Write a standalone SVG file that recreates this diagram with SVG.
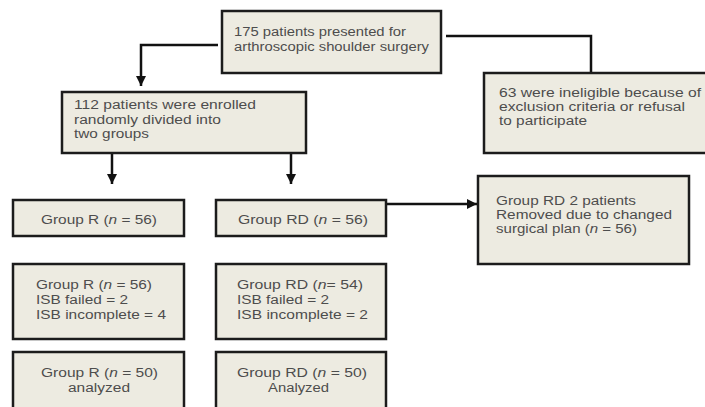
<svg xmlns="http://www.w3.org/2000/svg" width="705" height="407" viewBox="0 0 705 407">
<style>
.box{fill:#EDEBE1;stroke:#1c1c1c;stroke-width:2.5}
.t{font-family:"Liberation Sans",Arial,sans-serif;font-size:12.5px;fill:#4d4d4d}
.c{fill:none;stroke:#111;stroke-width:2.5}
</style>
<defs>
<marker id="ah" markerUnits="userSpaceOnUse" markerWidth="12" markerHeight="12" viewBox="0 0 12 12" refX="10" refY="6" orient="auto">
<path d="M0,1 L10,6 L0,11 Z" fill="#111"/>
</marker>
</defs>
<rect width="705" height="407" fill="#fff"/>
<g id="connectors">
<path class="c" d="M218,45 H141 V86" marker-end="url(#ah)"/>
<path class="c" d="M446,36 H591 V72"/>
<path class="c" d="M112,154 V184" marker-end="url(#ah)"/>
<path class="c" d="M291,154 V184" marker-end="url(#ah)"/>
<path class="c" d="M387,204 H477" marker-end="url(#ah)"/>
</g>
<g id="n175">
<rect class="box" x="222" y="11" width="219" height="62"/>
<text class="t" x="234" y="36" textLength="172" lengthAdjust="spacingAndGlyphs">175 patients presented for</text>
<text class="t" x="234" y="50.5" textLength="195" lengthAdjust="spacingAndGlyphs">arthroscopic shoulder surgery</text>
</g>
<g id="n63">
<rect class="box" x="484" y="73" width="225" height="80"/>
<text class="t" x="499" y="97" textLength="202" lengthAdjust="spacingAndGlyphs">63 were ineligible because of</text>
<text class="t" x="499" y="111" textLength="186" lengthAdjust="spacingAndGlyphs">exclusion criteria or refusal</text>
<text class="t" x="499" y="125" textLength="88" lengthAdjust="spacingAndGlyphs">to participate</text>
</g>
<g id="n112">
<rect class="box" x="62" y="92" width="244" height="61"/>
<text class="t" x="74" y="109" textLength="182" lengthAdjust="spacingAndGlyphs">112 patients were enrolled</text>
<text class="t" x="74" y="123.5" textLength="147" lengthAdjust="spacingAndGlyphs">randomly divided into</text>
<text class="t" x="74" y="138" textLength="75" lengthAdjust="spacingAndGlyphs">two groups</text>
</g>
<g id="nR56">
<rect class="box" x="13" y="200" width="171" height="36"/>
<text class="t" x="41" y="224" textLength="116" lengthAdjust="spacingAndGlyphs">Group R (<tspan font-style="italic">n</tspan> = 56)</text>
</g>
<g id="nRD56">
<rect class="box" x="216" y="200" width="170" height="36"/>
<text class="t" x="238" y="224" textLength="130" lengthAdjust="spacingAndGlyphs">Group RD (<tspan font-style="italic">n</tspan> = 56)</text>
</g>
<g id="nRemoved">
<rect class="box" x="478" y="176" width="211" height="88"/>
<text class="t" x="496" y="205" textLength="140" lengthAdjust="spacingAndGlyphs">Group RD 2 patients</text>
<text class="t" x="496" y="219" textLength="176" lengthAdjust="spacingAndGlyphs">Removed due to changed</text>
<text class="t" x="496" y="233" textLength="141" lengthAdjust="spacingAndGlyphs">surgical plan (<tspan font-style="italic">n</tspan> = 56)</text>
</g>
<g id="nR3">
<rect class="box" x="13" y="264" width="171" height="75"/>
<text class="t" x="36" y="289" textLength="116" lengthAdjust="spacingAndGlyphs">Group R (<tspan font-style="italic">n</tspan> = 56)</text>
<text class="t" x="36" y="304" textLength="92" lengthAdjust="spacingAndGlyphs">ISB failed = 2</text>
<text class="t" x="36" y="319" textLength="130" lengthAdjust="spacingAndGlyphs">ISB incomplete = 4</text>
</g>
<g id="nRD3">
<rect class="box" x="216" y="264" width="170" height="75"/>
<text class="t" x="237" y="289" textLength="126" lengthAdjust="spacingAndGlyphs">Group RD (<tspan font-style="italic">n</tspan>= 54)</text>
<text class="t" x="237" y="304" textLength="92" lengthAdjust="spacingAndGlyphs">ISB failed = 2</text>
<text class="t" x="237" y="319" textLength="131" lengthAdjust="spacingAndGlyphs">ISB incomplete = 2</text>
</g>
<g id="nR4">
<rect class="box" x="13" y="352" width="171" height="70"/>
<text class="t" x="41" y="377" textLength="117" lengthAdjust="spacingAndGlyphs">Group R (<tspan font-style="italic">n</tspan> = 50)</text>
<text class="t" x="68" y="392" textLength="62" lengthAdjust="spacingAndGlyphs">analyzed</text>
</g>
<g id="nRD4">
<rect class="box" x="216" y="352" width="170" height="70"/>
<text class="t" x="237" y="377" textLength="130" lengthAdjust="spacingAndGlyphs">Group RD (<tspan font-style="italic">n</tspan> = 50)</text>
<text class="t" x="268" y="392" textLength="61" lengthAdjust="spacingAndGlyphs">Analyzed</text>
</g>
</svg>
